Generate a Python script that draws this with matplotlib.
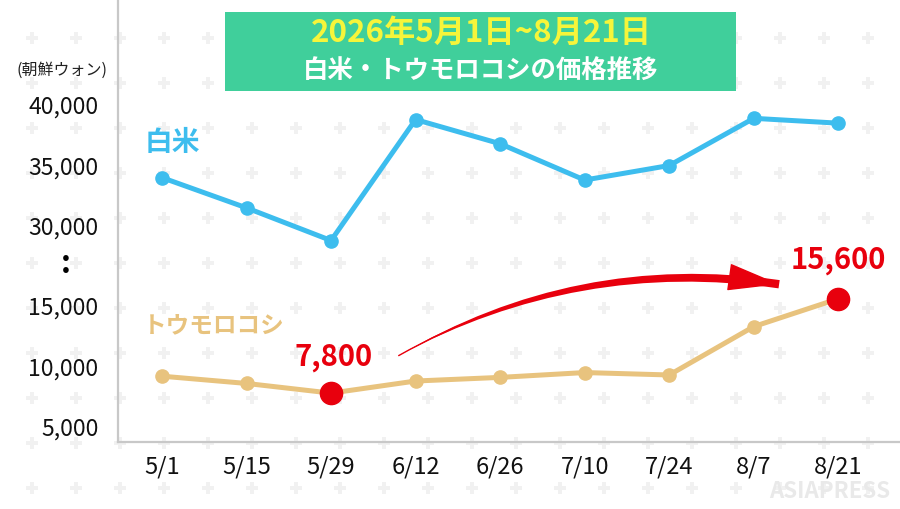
import matplotlib.pyplot as plt
import numpy as np
from matplotlib.patches import FancyArrowPatch, Rectangle

plt.rcParams['font.family'] = ['Noto Sans CJK JP', 'DejaVu Sans']

dates = ['5/1', '5/15', '5/29', '6/12', '6/26', '7/10', '7/24', '8/7', '8/21']
rice = [34000, 31500, 28800, 38800, 36800, 33800, 35000, 38900, 38500]
corn = [9200, 8600, 7800, 8800, 9100, 9500, 9300, 13300, 15600]
yticks = [5000, 10000, 15000, 30000, 35000, 40000]

blue = '#3dbdee'
tan = '#e8c37e'
red = '#e8000d'

# broken y axis: lower part as is, upper part shifted down
brk_in = [-1e6, 17000, 28000, 1e6]
brk_out = [-1e6, 17000, 19612, 1e6 - 8388]
def fwd(y):
    return np.interp(y, brk_in, brk_out)
def inv(y):
    return np.interp(y, brk_out, brk_in)

fig = plt.figure(figsize=(9, 5.09), dpi=100)
fig.patch.set_facecolor('white')

# background plus pattern
bg = fig.add_axes([0, 0, 1, 1], zorder=-1)
bg.set_xlim(0, 900)
bg.set_ylim(509, 0)
bg.axis('off')
gx, gy = np.meshgrid(np.arange(32, 900, 44), np.arange(38, 509, 45))
bg.scatter(gx.ravel(), gy.ravel(), marker='P', s=70, color='#f1f1f1', linewidths=0)

ax = fig.add_axes([118/900, 67/509, 782/900, 442/509])
ax.patch.set_alpha(0)
ax.set_yscale('function', functions=(fwd, inv))
x = np.arange(len(dates))

ax.plot(x, rice, color=blue, lw=3.6, marker='o', ms=9.5, zorder=3)
ax.plot(x, corn, color=tan, lw=3.6, marker='o', ms=9.5, zorder=3)
for i in [2, 8]:
    ax.plot(x[i], corn[i], 'o', color=red, ms=16, zorder=4)

ax.set_xlim(-0.52, 8.73)
ax.set_ylim(3760, 48680)
ax.set_xticks(x)
ax.set_xticklabels(dates, fontsize=17)
ax.set_yticks(yticks)
ax.set_yticklabels([f'{v:,}' for v in yticks], fontsize=16.5)
ax.tick_params(length=0, pad=14, colors='#111111')
ax.tick_params(axis='x', pad=10)
for s in ['top', 'right']:
    ax.spines[s].set_visible(False)
for s in ['left', 'bottom']:
    ax.spines[s].set_color('#c8c8c8')
    ax.spines[s].set_linewidth(1.6)

ax.annotate(f'{corn[2]:,}', (x[2], corn[2]), xytext=(2, 26), textcoords='offset points',
            color=red, fontsize=21, fontweight='bold', ha='center', va='center')
ax.annotate(f'{corn[8]:,}', (x[8], corn[8]), xytext=(0, 28), textcoords='offset points',
            color=red, fontsize=21, fontweight='bold', ha='center', va='center')
ax.text(-0.21, 36900, '白米', color=blue, fontsize=20, fontweight='bold', va='center')
ax.text(-0.23, 13300, 'トウモロコシ', color=tan, fontsize=17, fontweight='bold', va='center')

# curved arrow: tapered body drawn backwards as a wedge, plus a head
a_start = (2.8, 10900)
a_end = (7.3, 16800)
body = FancyArrowPatch(a_end, a_start, connectionstyle='arc3,rad=0.17',
                       arrowstyle='wedge,tail_width=0.3,shrink_factor=0.75', mutation_scale=20,
                       color=red, lw=0, shrinkA=0, shrinkB=0, zorder=5)
head = FancyArrowPatch(a_start, a_end, connectionstyle='arc3,rad=-0.17',
                       arrowstyle='-|>,head_length=1.7,head_width=0.45', mutation_scale=20,
                       color=red, lw=1, shrinkA=0, shrinkB=0, zorder=5)
ax.add_patch(body)
ax.add_patch(head)

# title box
fig.add_artist(Rectangle((225/900, 1 - 91/509), 511/900, 79/509, transform=fig.transFigure,
                         facecolor='#40cf9b', edgecolor='none'))
fig.text(481/900, 1 - 33/509, '2026年5月1日~8月21日', color='#f6f53a', fontsize=22.5,
         fontweight='bold', ha='center', va='center')
fig.text(481/900, 1 - 70/509, '白米・トウモロコシの価格推移', color='white', fontsize=18.3,
         fontweight='bold', ha='center', va='center')

fig.text(62/900, 1 - 70/509, '(朝鮮ウォン)', fontsize=11.5, ha='center', va='center', color='#222222')
fig.text(66/900, 1 - 264/509, ':', fontsize=22, fontweight='bold', ha='center', va='center')
fig.text(830/900, 1 - 492/509, 'ASIAPRESS', fontsize=16, fontweight='bold', color='#e9e9e9',
         ha='center', va='center')

fig.savefig('out.png', dpi=100)
